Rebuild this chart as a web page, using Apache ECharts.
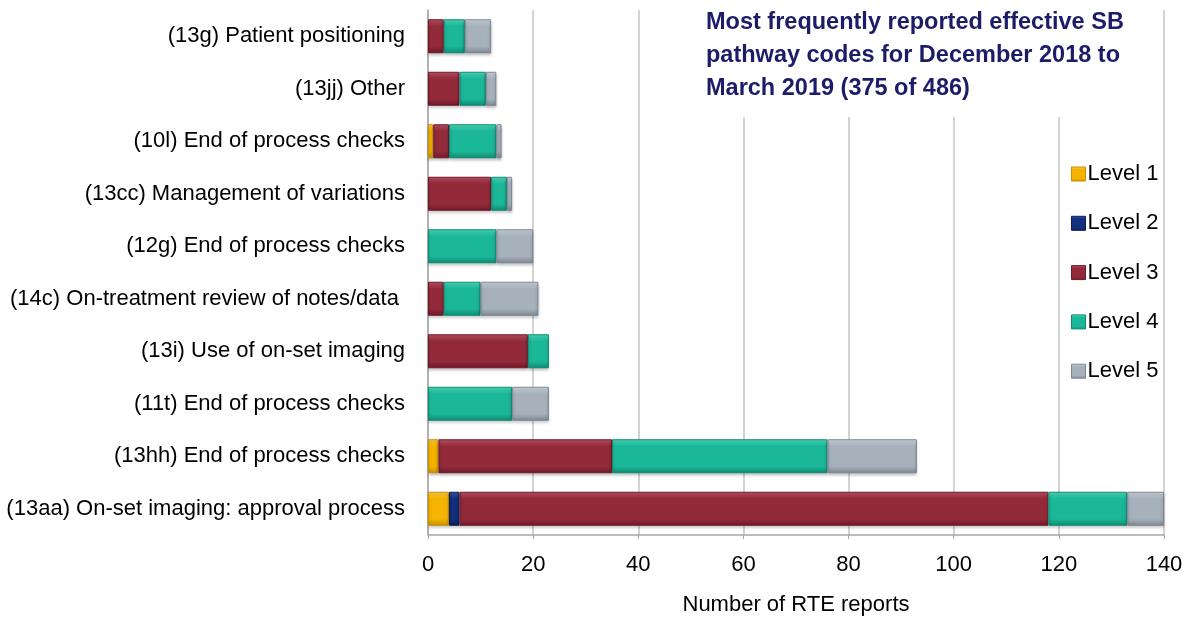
<!DOCTYPE html>
<html>
<head>
<meta charset="utf-8">
<script src="https://cdn.jsdelivr.net/npm/echarts@6/dist/echarts.min.js"></script>
<style>
    html, body { margin: 0; padding: 0; background: #fff; }
    #chart { width: 1192px; height: 621px; }
</style>
</head>
<body>
<div id="chart"></div>
<script>
// categories, bottom to top
const categories = [
    "(13aa) On-set imaging: approval process",
    "(13hh) End of process checks",
    "(11t) End of process checks",
    "(13i) Use of on-set imaging",
    "(14c) On-treatment review of notes/data ",
    "(12g) End of process checks",
    "(13cc) Management of variations",
    "(10l) End of process checks",
    "(13jj) Other",
    "(13g) Patient positioning",
];

const level1 = [4, 2, 0, 0, 0, 0, 0, 1, 0, 0];
const level2 = [2, 0, 0, 0, 0, 0, 0, 0, 0, 0];
const level3 = [112, 33, 0, 19, 3, 0, 12, 3, 6, 3];
const level4 = [15, 41, 16, 4, 7, 13, 3, 9, 5, 4];
const level5 = [7, 17, 7, 0, 11, 7, 1, 1, 2, 5];

const levelNames = ["Level 1", "Level 2", "Level 3", "Level 4", "Level 5"];
const levelData = [level1, level2, level3, level4, level5];
// base, light, dark
const levelColors = [
    ["#f4b400", "#ffd24a", "#c98f00"],
    ["#12307e", "#3a57a8", "#0a1d55"],
    ["#932a3a", "#c0566a", "#6e1a28"],
    ["#1bb799", "#4fe0c2", "#0f8a72"],
    ["#a6b1bc", "#d3dbe3", "#7c8792"],
];

const FONT = "Arial, 'Liberation Sans', sans-serif";

function bevel(c) {
    // fake the bevelled office look with a vertical gradient
    return new echarts.graphic.LinearGradient(0, 0, 0, 1, [
        { offset: 0, color: c[1] },
        { offset: 0.2, color: c[0] },
        { offset: 0.8, color: c[0] },
        { offset: 1, color: c[2] },
    ]);
}

const chart = echarts.init(document.getElementById("chart"));

const series = levelNames.map((name, i) => ({
    name: name,
    type: "bar",
    stack: "total",
    barWidth: 34,
    data: levelData[i].map((v) => (v === 0 ? null : v)),
    itemStyle: {
        color: bevel(levelColors[i]),
        borderColor: levelColors[i][2],
        borderWidth: 1,
        shadowColor: "rgba(0,0,0,0.25)",
        shadowBlur: 3,
        shadowOffsetY: 2,
    },
}));

chart.setOption({
    animation: false,
    textStyle: { fontFamily: FONT },
    title: {
        text: "Most frequently reported effective SB\npathway codes for December 2018 to\nMarch 2019 (375 of 486)",
        left: 700,
        top: 0,
        padding: [6, 6, 0, 6],
        textStyle: {
            color: "#1c1c68",
            fontSize: 23.5,
            fontWeight: "bold",
            lineHeight: 33,
            fontFamily: FONT,
        },
    },
    graphic: [
        {
            type: "rect",
            z: 1,
            shape: { x: 700, y: 0, width: 458, height: 117 },
            style: { fill: "#fff" },
        },
    ],
    legend: {
        orient: "vertical",
        left: 1066,
        top: 158,
        itemWidth: 14,
        itemHeight: 14,
        itemGap: 27.3,
        icon: "rect",
        textStyle: { fontSize: 22, color: "#000", padding: [0, 0, 0, -3] },
        data: levelNames.map((n, i) => ({
            name: n,
            itemStyle: {
                color: bevel(levelColors[i]),
                borderColor: levelColors[i][2],
                borderWidth: 1,
                shadowBlur: 0,
                shadowOffsetY: 0,
            },
        })),
    },
    grid: {
        left: 428,
        right: 28,
        top: 10,
        bottom: 85,
        containLabel: false,
    },
    xAxis: {
        type: "value",
        min: 0,
        max: 140,
        interval: 20,
        name: "Number of RTE reports",
        nameLocation: "middle",
        nameGap: 59,
        nameTextStyle: { fontSize: 22, color: "#000" },
        axisLine: { show: true, lineStyle: { color: "#a6a6a6", width: 1.5 } },
        axisTick: { show: true, length: 4, lineStyle: { color: "#a6a6a6" } },
        axisLabel: { fontSize: 22, color: "#000", margin: 19 },
        splitLine: { show: true, lineStyle: { color: "#c4c4c4", width: 1.5 } },
    },
    yAxis: {
        type: "category",
        data: categories,
        axisLine: { show: true, lineStyle: { color: "#a6a6a6", width: 1.5 } },
        axisTick: { show: false },
        axisLabel: { fontSize: 22, color: "#000", margin: 23 },
    },
    series: series,
});
</script>
</body>
</html>
